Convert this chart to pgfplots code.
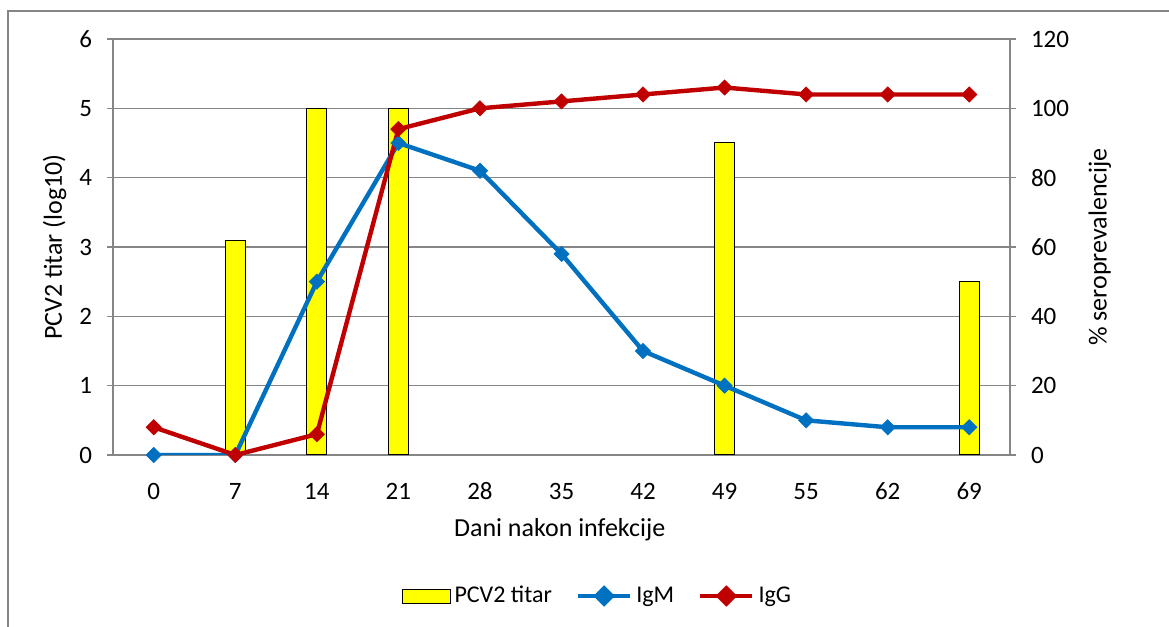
\documentclass[border=0pt]{standalone}
\usepackage{pgfplots}
\pgfplotsset{compat=1.18}
\usepackage{fontspec}
\setmainfont{Carlito}
\definecolor{igm}{RGB}{0,112,192}
\definecolor{igg}{RGB}{192,0,0}
\definecolor{gridc}{RGB}{134,134,134}
\definecolor{bary}{RGB}{255,255,0}
\pgfplotstableread{
x bar igm igg
0 nan 0 8
1 3.1 0 0
2 5.0 50 6
3 5.0 90 94
4 nan 82 100
5 nan 58 102
6 nan 30 104
7 4.5 20 106
8 nan 10 104
9 nan 8 104
10 2.5 8 104
}\datatable
\begin{document}
\begin{tikzpicture}[font=\fontsize{12.5bp}{15bp}\selectfont]
\path[use as bounding box] (0,0) rectangle (584.5bp,313.5bp);
\draw[gridc, line width=1bp] (3.75bp,0) -- (3.75bp,308bp) -- (584.5bp,308bp);
\pgfplotsset{
  base/.style={
    scale only axis, width=448.5bp, height=208bp,
    at={(56.5bp,86bp)}, anchor=south west,
    xmin=-0.5, xmax=10.5,
    /pgf/number format/assume math mode=true,
    tick label style={font=\fontsize{12.5bp}{15bp}\selectfont},
    label style={font=\fontsize{13bp}{15.6bp}\selectfont},
    axis line style={gridc, line width=0.6bp},
    major tick length=3bp,
    tick align=outside,
  }
}
\begin{axis}[base,
  axis x line*=bottom, axis y line*=left,
  ymin=0, ymax=6, ytick={0,1,2,3,4,5,6},
  xtick={0,...,10},
  xticklabels={0,7,14,21,28,35,42,49,55,62,69},
  major x tick style={draw=none},
  major y tick style={gridc, line width=0.6bp},
  ymajorgrids, grid style={gridc, line width=0.6bp},
  ylabel={PCV2 titar (log10)},
  ylabel style={at={(axis description cs:-0.065,0.5)}, anchor=center},
  xlabel={Dani nakon infekcije},
  xlabel style={at={(axis description cs:0.498,-0.18)}, anchor=center},
  xticklabel style={anchor=center, yshift=-15bp, text height=9bp, text depth=0bp},
  yticklabel style={xshift=-4bp},
]
\addplot[ybar, bar width=10bp, fill=bary, draw=black, line width=0.5bp, unbounded coords=discard] table[x=x, y=bar] {\datatable};
\end{axis}
\begin{axis}[base,
  axis x line=none, axis y line*=right,
  ymin=0, ymax=120, ytick={0,20,40,60,80,100,120},
  major y tick style={gridc, line width=0.6bp},
  ylabel={\% seroprevalencije},
  ylabel style={at={(axis description cs:1.1,0.5)}, anchor=center},
  yticklabel style={xshift=4bp},
  legend style={at={(axis description cs:0.541,-0.339)}, anchor=center, draw=none, legend columns=3,
    font=\fontsize{12bp}{14.4bp}\selectfont,
    /tikz/every even column/.append style={column sep=10bp}},
  legend cell align=left,
]
\addlegendimage{legend image code/.code={\draw[fill=bary, draw=black, line width=0.5bp] (0bp,-3.5bp) rectangle (24bp,3.5bp);}}
\addlegendentry{PCV2 titar}
\addplot[igm, line width=2.2bp, mark=square*, mark size=2.7bp, mark options={rotate=45, fill=igm, draw=igm, line width=0.3bp},
  legend image code/.code={\draw[igm, line width=2.2bp] (0bp,0bp) -- (26bp,0bp); \fill[igm] (13bp,3.8bp) -- (16.8bp,0bp) -- (13bp,-3.8bp) -- (9.2bp,0bp) -- cycle;}] table[x=x, y=igm] {\datatable};
\addlegendentry{IgM}
\addplot[igg, line width=2.2bp, mark=square*, mark size=2.7bp, mark options={rotate=45, fill=igg, draw=igg, line width=0.3bp},
  legend image code/.code={\draw[igg, line width=2.2bp] (0bp,0bp) -- (26bp,0bp); \fill[igg] (13bp,3.8bp) -- (16.8bp,0bp) -- (13bp,-3.8bp) -- (9.2bp,0bp) -- cycle;}] table[x=x, y=igg] {\datatable};
\addlegendentry{IgG}
\end{axis}
\end{tikzpicture}
\end{document}
